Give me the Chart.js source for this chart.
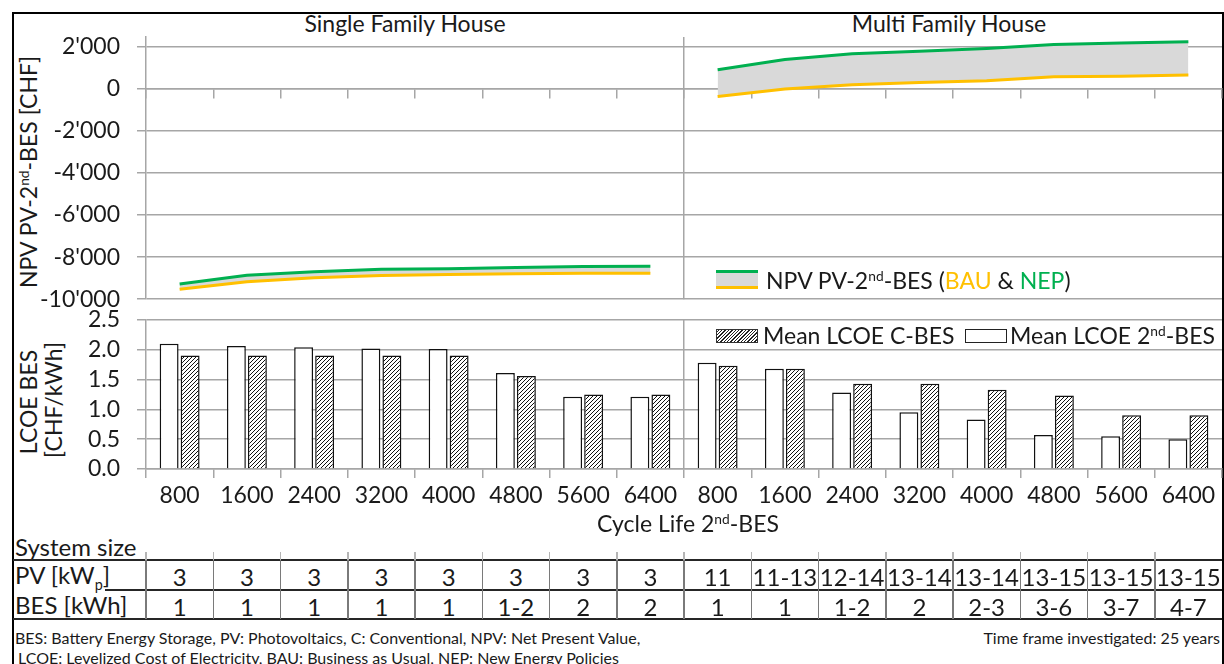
<!DOCTYPE html>
<html>
<head>
<meta charset="utf-8">
<script src="https://cdn.jsdelivr.net/npm/chart.js"></script>
<style>
  body { margin: 0; width: 1224px; height: 664px; position: relative; overflow: hidden; background: #fff;
         font-family: Lato, "Open Sans", sans-serif; color: #1a1a1a; }
  #frame { position: absolute; left: 12px; top: 12px; width: 1208px; height: 720px; border: 2px solid #000; }
  .c { position: absolute; transform: translate(-50%, -50%); white-space: nowrap; }
  .l { position: absolute; transform: translateY(-50%); white-space: nowrap; }
  .r { position: absolute; transform: translate(-100%, -50%); white-space: nowrap; }
  .rot { position: absolute; transform: translate(-50%, -50%) rotate(-90deg); white-space: nowrap; }
  sup { font-size: 60%; vertical-align: 0; position: relative; top: -0.6em; }
  sub { font-size: 60%; vertical-align: 0; position: relative; top: 0.45em; }
  .t23 { font-size: 23px; }
  canvas { position: absolute; left: 0; }
  .hl { position: absolute; height: 2px; background: #262626; }
  .vl { position: absolute; width: 1.5px; background: #7a7a7a; }
  .cell { position: absolute; font-size: 24px; text-align: center; transform: translateY(-50%); }
  .foot { font-size: 16px; }
</style>
</head>
<body>
<div id="frame"></div>

<div class="c t23" style="left:405px; top:23px;">Single Family House</div>
<div class="c t23" style="left:949px; top:23px;">Multi Family House</div>

<div class="rot t23" style="left:28px; top:172px;">NPV PV-2<sup>nd</sup>-BES [CHF]</div>
<div class="rot t23" style="left:28px; top:402px;">LCOE BES</div>
<div class="rot t23" style="left:53px; top:400px;">[CHF/kWh]</div>

<canvas id="npvChart" width="1224" height="330" style="top:0"></canvas>
<canvas id="lcoeChart" width="1224" height="226" style="top:289px"></canvas>

<!-- legend NPV -->
<div style="position:absolute; left:716px; top:270px; width:42px; height:13px; background:#d9d9d9; border-top:3px solid #00b050; border-bottom:3px solid #ffc000;"></div>
<div class="l t23" style="left:766px; top:280px;">NPV PV-2<sup>nd</sup>-BES (<span style="color:#ffc000">BAU</span> &amp; <span style="color:#00b050">NEP</span>)</div>

<!-- legend LCOE -->
<div style="position:absolute; left:716px; top:329px; width:40px; height:12px; border:1px solid #333;
     background: repeating-linear-gradient(-45deg, #fff 0 1.4px, #222 1.4px 2.4px);"></div>
<div class="l t23" style="left:763px; top:335px;">Mean LCOE C-BES</div>
<div style="position:absolute; left:965px; top:329px; width:40px; height:12px; border:1px solid #222; background:#fff;"></div>
<div class="l t23" style="left:1010px; top:335px;">Mean LCOE 2<sup>nd</sup>-BES</div>

<div class="c t23" style="left:688px; top:523px;">Cycle Life 2<sup>nd</sup>-BES</div>

<div id="table"></div>

<div class="l foot" style="left:15px; top:637px;">BES: Battery Energy Storage, PV: Photovoltaics, C: Conventional, NPV: Net Present Value,</div>
<div class="l foot" style="left:18px; top:657px;">LCOE: Levelized Cost of Electricity, BAU: Business as Usual, NEP: New Energy Policies</div>
<div class="r foot" style="left:1220px; top:637px;">Time frame investigated: 25 years</div>

<script>
// Cycle life 2nd-BES (same for both house types)
const cycleLife = [800, 1600, 2400, 3200, 4000, 4800, 5600, 6400];

// NPV PV-2nd-BES [CHF], NEP = green, BAU = yellow
const npvNepSFH = [-9280, -8860, -8700, -8580, -8550, -8500, -8450, -8440];
const npvBauSFH = [-9530, -9170, -8980, -8870, -8830, -8790, -8770, -8770];
const npvNepMFH = [900, 1380, 1650, 1770, 1900, 2090, 2170, 2220];
const npvBauMFH = [-370, -20, 180, 285, 370, 565, 585, 640];

// Mean LCOE [CHF/kWh]
const lcoe2ndSFH = [2.10, 2.06, 2.04, 2.02, 2.01, 1.61, 1.21, 1.21];
const lcoeCSFH = [1.90, 1.90, 1.90, 1.90, 1.90, 1.56, 1.25, 1.25];
const lcoe2ndMFH = [1.78, 1.68, 1.28, 0.95, 0.83, 0.57, 0.55, 0.50];
const lcoeCMFH = [1.73, 1.68, 1.43, 1.43, 1.33, 1.23, 0.90, 0.90];

const npvTicks = [-10000, -8000, -6000, -4000, -2000, 0, 2000];
const lcoeTicks = [0, 0.5, 1.0, 1.5, 2.0, 2.5];

// system size table
const pvSize = ['3', '3', '3', '3', '3', '3', '3', '3', '11', '11-13', '12-14', '13-14', '13-14', '13-15', '13-15', '13-15'];
const besSize = ['1', '1', '1', '1', '1', '1-2', '2', '2', '1', '1', '1-2', '2', '2-3', '3-6', '3-7', '4-7'];

const green = '#00b050';
const yellow = '#ffc000';
const gridGray = '#a6a6a6';
const txt = '#1a1a1a';

Chart.defaults.font.family = 'Lato';
Chart.defaults.color = txt;

const labels = cycleLife.concat(cycleLife).map(String);
const empty = cycleLife.map(() => null);

function apos(v) {
    const s = String(Math.abs(v)).replace(/\B(?=(\d{3})+(?!\d))/g, "'");
    return (v < 0 ? '-' : '') + s;
}

// separator between SFH and MFH, tick marks everywhere
const xGrid = {
    offset: true,
    color: c => c.index === cycleLife.length ? gridGray : 'rgba(0,0,0,0)',
    tickColor: gridGray,
    lineWidth: 1.5,
    tickLength: 9
};

const npvChart = new Chart(document.getElementById('npvChart'), {
    type: 'line',
    data: {
        labels: labels,
        datasets: [
            { data: npvNepSFH.concat(empty), borderColor: green, borderWidth: 3, pointRadius: 0, fill: false },
            { data: npvBauSFH.concat(empty), borderColor: yellow, borderWidth: 3, pointRadius: 0, fill: '-1', backgroundColor: '#d9d9d9' },
            { data: empty.concat(npvNepMFH), borderColor: green, borderWidth: 3, pointRadius: 0, fill: false },
            { data: empty.concat(npvBauMFH), borderColor: yellow, borderWidth: 3, pointRadius: 0, fill: '-1', backgroundColor: '#d9d9d9' }
        ]
    },
    options: {
        responsive: false,
        animation: false,
        layout: { padding: { top: 37, right: 2, bottom: 12, left: 0 } },
        plugins: { legend: { display: false }, tooltip: { enabled: false } },
        scales: {
            x: {
                offset: true,
                position: { y: 0 },
                grid: xGrid,
                border: { color: gridGray, width: 1.5 },
                ticks: { display: false },
                afterFit: s => { s.height = 0; }
            },
            y: {
                min: -10000,
                max: 2450,
                afterBuildTicks: s => { s.ticks = npvTicks.map(v => ({ value: v })); },
                ticks: { callback: v => apos(v), font: { size: 23 }, color: txt, padding: 17, autoSkip: false },
                grid: { color: gridGray, lineWidth: 1.5, tickLength: 9 },
                border: { color: gridGray, width: 1.5 },
                afterFit: s => { s.width = 146; }
            }
        }
    }
});

// hatched fill for conventional BES
function makeHatch() {
    const c = document.createElement('canvas');
    c.width = 4; c.height = 4;
    const g = c.getContext('2d');
    g.fillStyle = '#fff';
    g.fillRect(0, 0, 4, 4);
    g.strokeStyle = '#111';
    g.lineWidth = 1;
    g.beginPath();
    g.moveTo(0, 4); g.lineTo(4, 0);
    g.moveTo(-1, 1); g.lineTo(1, -1);
    g.moveTo(3, 5); g.lineTo(5, 3);
    g.stroke();
    return g.createPattern(c, 'repeat');
}

const lcoeChart = new Chart(document.getElementById('lcoeChart'), {
    type: 'bar',
    data: {
        labels: labels,
        datasets: [
            { label: 'Mean LCOE 2nd-BES', data: lcoe2ndSFH.concat(lcoe2ndMFH), backgroundColor: '#fff',
              borderColor: '#111', borderWidth: 1.5, categoryPercentage: 0.625, barPercentage: 0.9 },
            { label: 'Mean LCOE C-BES', data: lcoeCSFH.concat(lcoeCMFH), backgroundColor: makeHatch(),
              borderColor: '#111', borderWidth: 1.5, categoryPercentage: 0.625, barPercentage: 0.9 }
        ]
    },
    options: {
        responsive: false,
        animation: false,
        layout: { padding: { top: 19, right: 2, bottom: 0, left: 0 } },
        plugins: { legend: { display: false }, tooltip: { enabled: false } },
        scales: {
            x: {
                grid: xGrid,
                border: { color: gridGray, width: 1.5 },
                ticks: { font: { size: 23 }, color: txt, padding: 4, maxRotation: 0, autoSkip: false },
                afterFit: s => { s.height = 46; }
            },
            y: {
                min: 0,
                max: 2.5,
                afterBuildTicks: s => { s.ticks = lcoeTicks.map(v => ({ value: v })); },
                ticks: { callback: v => v.toFixed(1), font: { size: 23 }, color: txt, padding: 17, autoSkip: false },
                grid: { color: gridGray, lineWidth: 1.5, tickLength: 9 },
                border: { color: gridGray, width: 1.5 },
                afterFit: s => { s.width = 146; }
            }
        }
    }
});

// system size table, columns follow the category axis
(function buildTable() {
    const t = document.getElementById('table');
    const area = lcoeChart.chartArea;
    const colW = (area.right - area.left) / labels.length;
    const top = 560, mid = 590, bottom = 619;
    let html = '';
    html += `<div class="l" style="left:15px; top:546px; font-size:24px;">System size</div>`;
    html += `<div class="l" style="left:15px; top:574px; font-size:24px;">PV [kW<sub>p</sub>]</div>`;
    html += `<div class="l" style="left:15px; top:604px; font-size:24px;">BES [kWh]</div>`;
    html += `<div class="hl" style="left:13px; width:1209px; top:${top - 1}px;"></div>`;
    html += `<div class="hl" style="left:105px; width:1117px; top:${mid - 1}px;"></div>`;
    html += `<div class="hl" style="left:13px; width:1209px; top:${bottom - 1}px;"></div>`;
    for (let i = 0; i < labels.length; i++) {
        const x = area.left + i * colW;
        html += `<div class="vl" style="left:${x - 0.75}px; top:552px; height:8px; background:#b5b5b5;"></div>`;
        html += `<div class="vl" style="left:${x - 0.75}px; top:${top}px; height:${bottom - top}px;"></div>`;
        html += `<div class="cell" style="left:${x}px; width:${colW}px; top:${(top + mid) / 2 + 1}px;">${pvSize[i]}</div>`;
        html += `<div class="cell" style="left:${x}px; width:${colW}px; top:${(mid + bottom) / 2 + 1}px;">${besSize[i]}</div>`;
    }
    t.innerHTML = html;
})();
</script>
</body>
</html>
